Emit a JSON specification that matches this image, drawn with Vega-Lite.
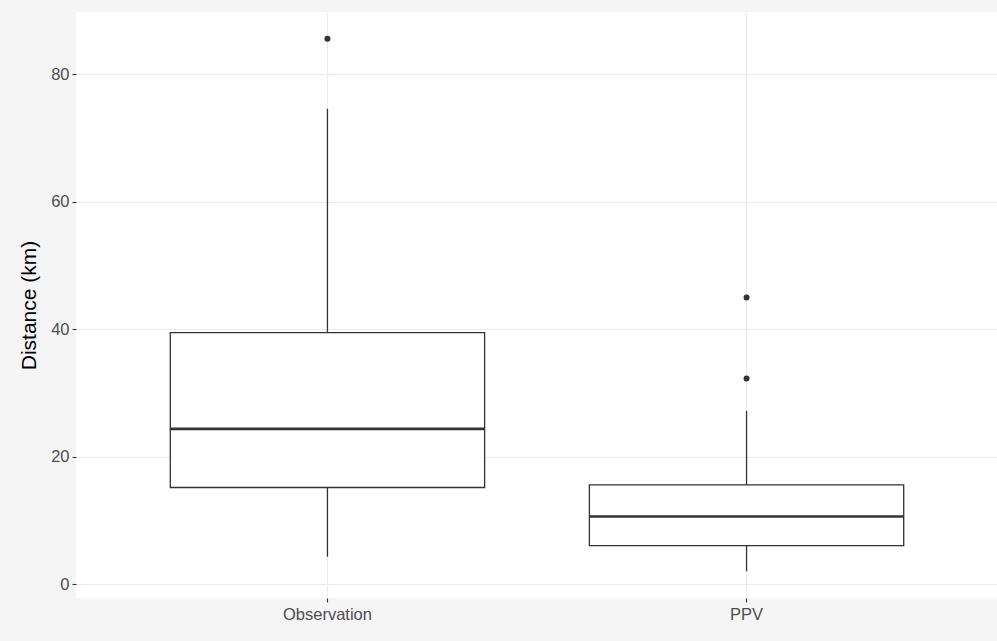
{
  "$schema": "https://vega.github.io/schema/vega-lite/v6.json",
  "autosize": "none",
  "width": 922,
  "height": 586,
  "padding": {"left": 76, "top": 12, "right": 0, "bottom": 43},
  "background": "#f5f5f5",
  "config": {
    "font": "Liberation Sans",
    "view": {"fill": "white", "stroke": null},
    "axis": {
      "gridColor": "#ebebeb",
      "gridWidth": 1.1,
      "domain": false,
      "tickColor": "#333333",
      "tickSize": 4,
      "tickWidth": 1.1,
      "labelColor": "#4d4d4d",
      "labelFontSize": 16.5,
      "labelPadding": 3,
      "titleColor": "#000000",
      "titleFontSize": 21,
      "titleFontWeight": "normal"
    }
  },
  "data": {
    "values": [
      {"group": "Observation", "lower": 4.35, "q1": 15.2, "median": 24.4, "q3": 39.5, "upper": 74.6},
      {"group": "PPV", "lower": 2.05, "q1": 6.1, "median": 10.66, "q3": 15.6, "upper": 27.2}
    ]
  },
  "encoding": {
    "x": {
      "field": "group",
      "type": "nominal",
      "scale": {"paddingInner": 0.25, "paddingOuter": 0.225},
      "axis": {"title": null, "labelAngle": 0, "grid": true, "labelPadding": 4}
    }
  },
  "layer": [
    {
      "mark": {"type": "rule", "color": "#333333", "strokeWidth": 1.3},
      "encoding": {
        "y": {
          "field": "lower",
          "type": "quantitative",
          "scale": {"domain": [-2.13, 89.78], "nice": false, "zero": false},
          "axis": {"title": "Distance (km)", "values": [0, 20, 40, 60, 80], "titlePadding": 11}
        },
        "y2": {"field": "upper"}
      }
    },
    {
      "mark": {"type": "bar", "fill": "white", "stroke": "#333333", "strokeWidth": 1.3},
      "encoding": {
        "y": {"field": "q1", "type": "quantitative"},
        "y2": {"field": "q3"}
      }
    },
    {
      "mark": {"type": "tick", "color": "#333333", "size": 314, "thickness": 2.6, "opacity": 1},
      "encoding": {
        "y": {"field": "median", "type": "quantitative"}
      }
    },
    {
      "data": {
        "values": [
          {"group": "Observation", "value": 85.6},
          {"group": "PPV", "value": 45.0},
          {"group": "PPV", "value": 32.3}
        ]
      },
      "mark": {"type": "point", "filled": true, "color": "#333333", "size": 36, "opacity": 1},
      "encoding": {
        "y": {"field": "value", "type": "quantitative"}
      }
    }
  ]
}
